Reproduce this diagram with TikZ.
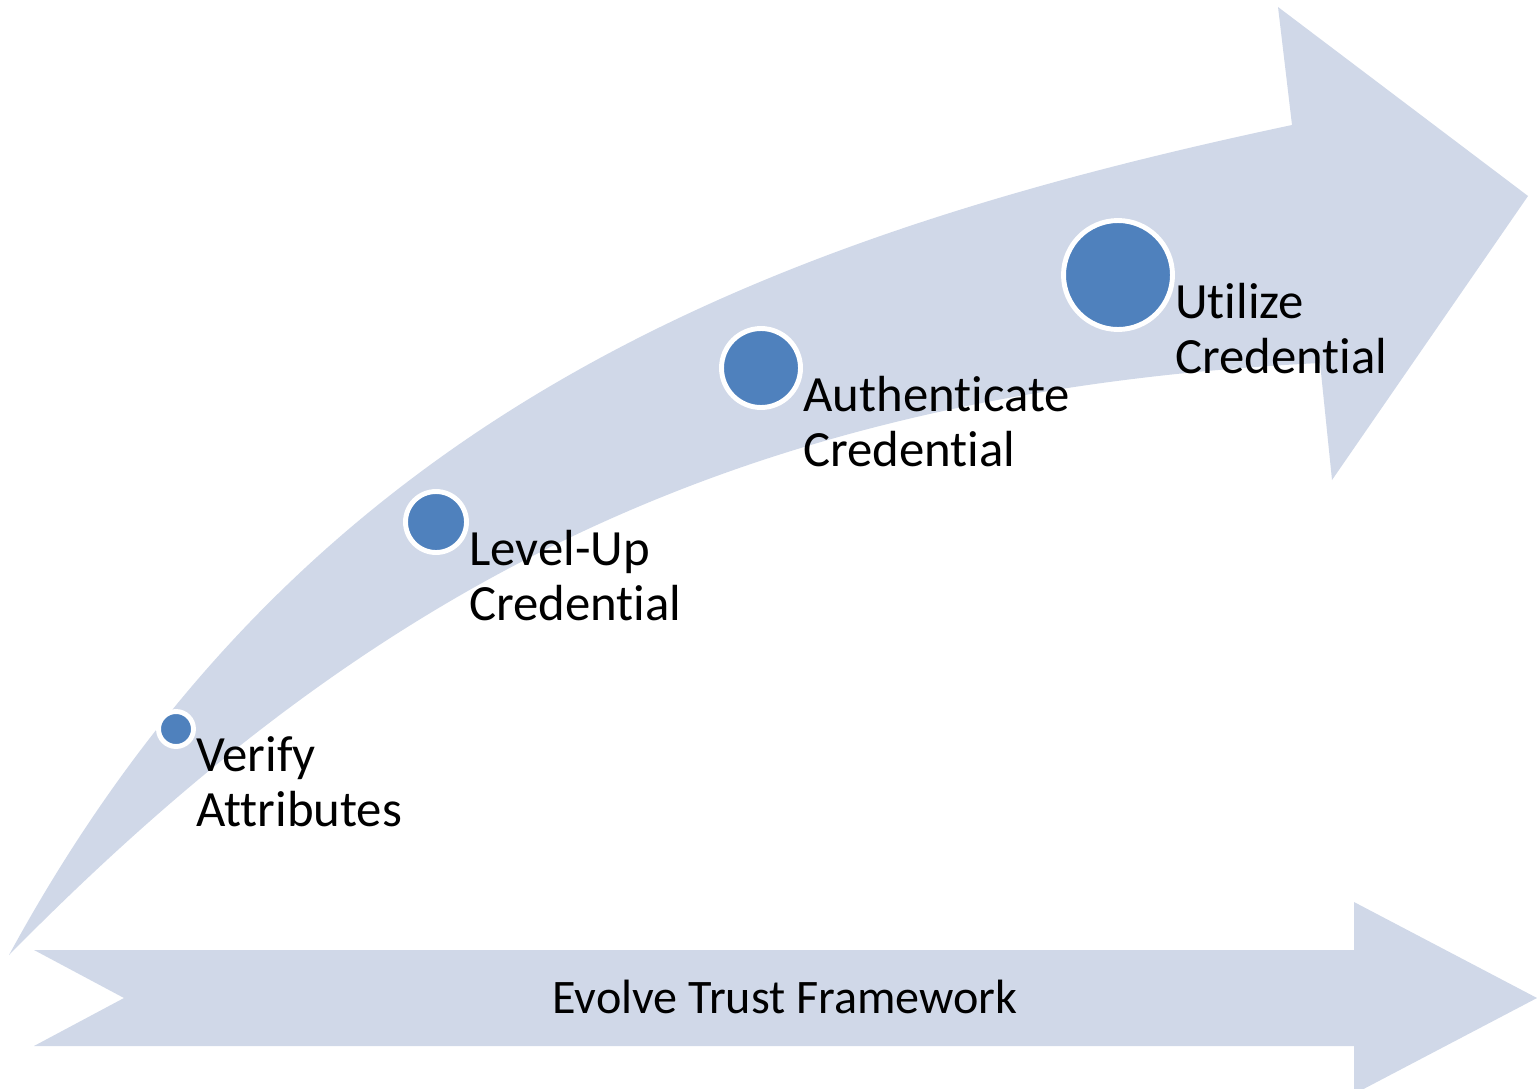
\documentclass[tikz,border=0pt]{standalone}
\usepackage{fontspec}
\setmainfont{Carlito}[Ligatures=NoCommon]
\usetikzlibrary{positioning}

\definecolor{bandfill}{HTML}{D0D8E8}
\definecolor{dotfill}{HTML}{4F81BD}

\tikzset{
    dot/.style={circle, fill=dotfill, draw=white, line width=2.8pt, inner sep=0pt},
    steplabel/.style={align=left, inner sep=0pt, font=\fontsize{28.9pt}{31.4pt}\selectfont}
}

\begin{document}
\begin{tikzpicture}[x=0.02cm, y=-0.02cm]
    \clip (0,0) rectangle (1537,1088);

    % Rising curved arrow
    \fill[bandfill] (9,955) .. controls (300,420) and (750,240) .. (1292,125)
        -- (1278,7) -- (1528,196) -- (1332,480) -- (1320,363)
        .. controls (720,393) and (359,600) .. cycle;

    % Base arrow
    \fill[bandfill] (34,950) -- (1354,950) -- (1354,902) -- (1537,998)
        -- (1354,1094) -- (1354,1046) -- (34,1046) -- (124,998) -- cycle;
    \node[inner sep=0pt, font=\fontsize{27.4pt}{30pt}\selectfont] (frame) at (785,997) {Evolve Trust Framework};

    % Steps along the curve
    \node[dot, minimum size=0.7cm] (verify) at (176,729) {};
    \node[dot, minimum size=1.22cm] (levelup) at (436,522) {};
    \node[dot, minimum size=1.58cm] (auth) at (761,368) {};
    \node[dot, minimum size=2.18cm] (utilize) at (1118,275) {};

    \node[steplabel, below right=0.15cm and 0cm of verify.east] (verifytext) {Verify\\Attributes};
    \node[steplabel, below right=0.15cm and 0cm of levelup.east] (leveluptext) {Level-Up\\Credential};
    \node[steplabel, below right=0.15cm and 0cm of auth.east] (authtext) {Authenticate\\Credential};
    \node[steplabel, below right=0.15cm and 0cm of utilize.east] (utilizetext) {Utilize\\Credential};
\end{tikzpicture}
\end{document}
